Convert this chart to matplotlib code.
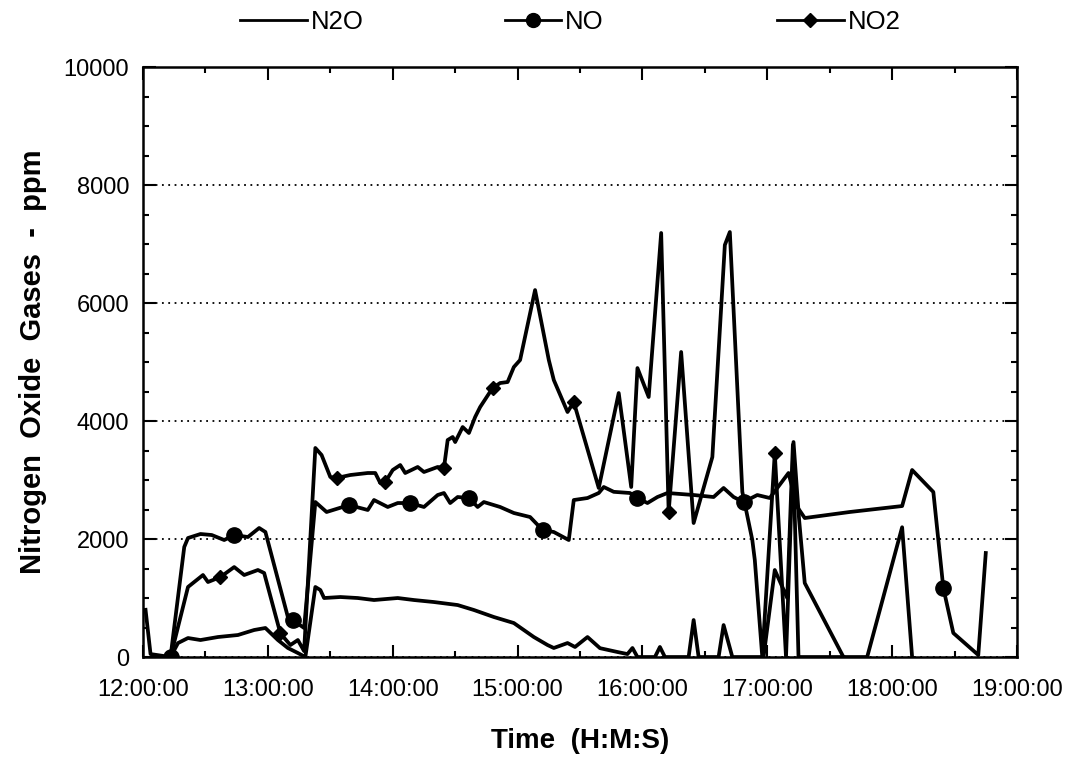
#!/usr/bin/env python3
# nitrogen oxide gases vs time of day, three series, scanned-chart style
import matplotlib
matplotlib.use('Agg')
import matplotlib.pyplot as plt
from matplotlib.lines import Line2D
from matplotlib.ticker import FuncFormatter, MultipleLocator

plt.rcParams['font.family'] = ['Liberation Sans', 'DejaVu Sans']

# DATA (time in decimal hours, values in ppm)
n2o_t = [12.22, 12.28, 12.36, 12.46, 12.60, 12.76, 12.89, 12.98, 13.08, 13.16,
         13.24, 13.30, 13.38, 13.42, 13.45, 13.58, 13.72, 13.85, 14.04, 14.17,
         14.33, 14.52, 14.65, 14.81, 14.97, 15.13, 15.24, 15.29, 15.40, 15.46,
         15.56, 15.66, 15.80, 15.88, 15.92, 15.96, 16.10, 16.14, 16.18, 16.37,
         16.41, 16.45, 16.61, 16.65, 16.72, 16.97, 17.06, 17.16, 17.205, 17.25,
         17.61]
n2o_v = [0, 237, 322, 288, 339, 373, 458, 492, 288, 153,
         68, 0, 1187, 1136, 1000, 1017, 1000, 966, 1000, 966,
         932, 881, 797, 678, 576, 339, 203, 153, 237, 170,
         339, 150, 85, 50, 153, 0, 0, 170, 0, 0,
         627, 0, 0, 542, 0, 0, 1475, 1000, 3600, 0,
         0]

no_t = [12.22, 12.33, 12.36, 12.46, 12.55, 12.65, 12.73, 12.84, 12.93, 12.98,
        13.16, 13.20, 13.29, 13.38, 13.47, 13.65, 13.80, 13.85, 13.96, 14.04,
        14.14, 14.25, 14.36, 14.41, 14.46, 14.52, 14.61, 14.68, 14.73, 14.86,
        14.97, 15.10, 15.20, 15.29, 15.41, 15.45, 15.56, 15.65, 15.69, 15.77,
        15.90, 15.96, 16.04, 16.12, 16.20, 16.41, 16.57, 16.65, 16.73, 16.81,
        16.92, 17.02, 17.17, 17.24, 17.30, 17.66, 18.08, 18.16, 18.33, 18.41,
        18.49, 18.69, 18.75]
no_v = [0, 1865, 2017, 2085, 2068, 1983, 2068, 2034, 2187, 2119,
        678, 627, 492, 2627, 2458, 2576, 2492, 2661, 2543, 2610,
        2610, 2543, 2746, 2780, 2610, 2712, 2695, 2543, 2627, 2543,
        2441, 2373, 2153, 2119, 1983, 2661, 2695, 2780, 2882, 2800,
        2780, 2695, 2610, 2712, 2780, 2746, 2712, 2865, 2712, 2627,
        2746, 2695, 3119, 2543, 2356, 2458, 2559, 3170, 2797, 1170,
        407, 34, 1763]
no_marks = [0, 6, 11, 15, 20, 26, 32, 41, 49, 59]

no2_t = [12.02, 12.06, 12.22, 12.36, 12.48, 12.52, 12.62, 12.73, 12.81, 12.92,
         12.97, 13.10, 13.18, 13.24, 13.29, 13.38, 13.43, 13.50, 13.55, 13.66,
         13.80, 13.86, 13.90, 13.94, 14.00, 14.06, 14.10, 14.20, 14.25, 14.36,
         14.41, 14.44, 14.48, 14.50, 14.56, 14.61, 14.66, 14.70, 14.80, 14.86,
         14.92, 14.97, 15.02, 15.14, 15.25, 15.29, 15.40, 15.45, 15.65, 15.81,
         15.91, 15.96, 16.05, 16.15, 16.21, 16.31, 16.41, 16.56, 16.66, 16.70,
         16.80, 16.88, 16.90, 16.96, 17.06, 17.15, 17.21, 17.255, 17.30, 17.61,
         17.80, 18.08, 18.16]
no2_v = [800, 50, 0, 1187, 1390, 1271, 1356, 1525, 1390, 1475,
         1424, 400, 203, 288, 100, 3543, 3424, 3051, 3034, 3085,
         3119, 3119, 2949, 2966, 3170, 3254, 3119, 3221, 3136, 3221,
         3204, 3678, 3729, 3644, 3898, 3797, 4068, 4237, 4560, 4644,
         4661, 4915, 5034, 6220, 5034, 4695, 4153, 4322, 2865, 4475,
         2882, 4898, 4407, 7187, 2458, 5170, 2271, 3390, 6983, 7204,
         2800, 1983, 1644, 0, 3458, 0, 3644, 2322, 1254, 0,
         0, 2200, 0]
no2_marks = [6, 11, 18, 23, 30, 38, 47, 54, 64]

series_names = ['N2O', 'NO', 'NO2']

LW = 2.7
FS = 17

fig = plt.figure(figsize=(10.78, 7.6), dpi=100)
ax = fig.add_axes([0.1327, 0.1355, 0.8107, 0.7763])

ax.plot(n2o_t, n2o_v, color='black', lw=LW)
ax.plot(no_t, no_v, color='black', lw=LW, marker='o', ms=11, markevery=no_marks)
ax.plot(no2_t, no2_v, color='black', lw=LW, marker='D', ms=7.5, markevery=no2_marks)

ax.set_xlim(12, 19)
ax.set_ylim(0, 10000)
ax.xaxis.set_major_locator(MultipleLocator(1))
ax.xaxis.set_minor_locator(MultipleLocator(0.5))
ax.xaxis.set_major_formatter(FuncFormatter(lambda h, p: '%d:00:00' % round(h)))
ax.yaxis.set_major_locator(MultipleLocator(2000))
ax.yaxis.set_minor_locator(MultipleLocator(500))

ax.tick_params(which='both', direction='in', top=True, right=True, width=1.5,
               labelsize=FS)
ax.tick_params(which='major', length=9)
ax.tick_params(which='minor', length=4)
ax.tick_params(axis='x', which='major', pad=16)
ax.tick_params(axis='y', which='major', pad=10)
for s in ax.spines.values():
    s.set_linewidth(1.8)

# dotted grid lines across the plot
ax.yaxis.grid(True, which='major', color='black', linestyle=(0, (1, 2.5)), lw=1.3)

ax.set_xlabel('Time  (H:M:S)', fontsize=20, fontweight='bold', labelpad=19)
ax.set_ylabel('Nitrogen  Oxide  Gases  -  ppm', fontsize=21, fontweight='bold',
              labelpad=12)

# legend entries spread along the top
handles = [Line2D([], [], color='black', lw=2),
           Line2D([], [], color='black', lw=2, marker='o', ms=10),
           Line2D([], [], color='black', lw=2, marker='D', ms=7)]
spots = [0.2226, 0.468, 0.7208]
hlens = [2.6, 2.2, 2.6]
for h, name, x, hl in zip(handles, series_names, spots, hlens):
    fig.legend(handles=[h], labels=[name], loc='center left',
               bbox_to_anchor=(x, 0.971), frameon=False, fontsize=18.5,
               handlelength=hl, handletextpad=0.15, borderpad=0, borderaxespad=0)

fig.savefig('out.png', dpi=100)
